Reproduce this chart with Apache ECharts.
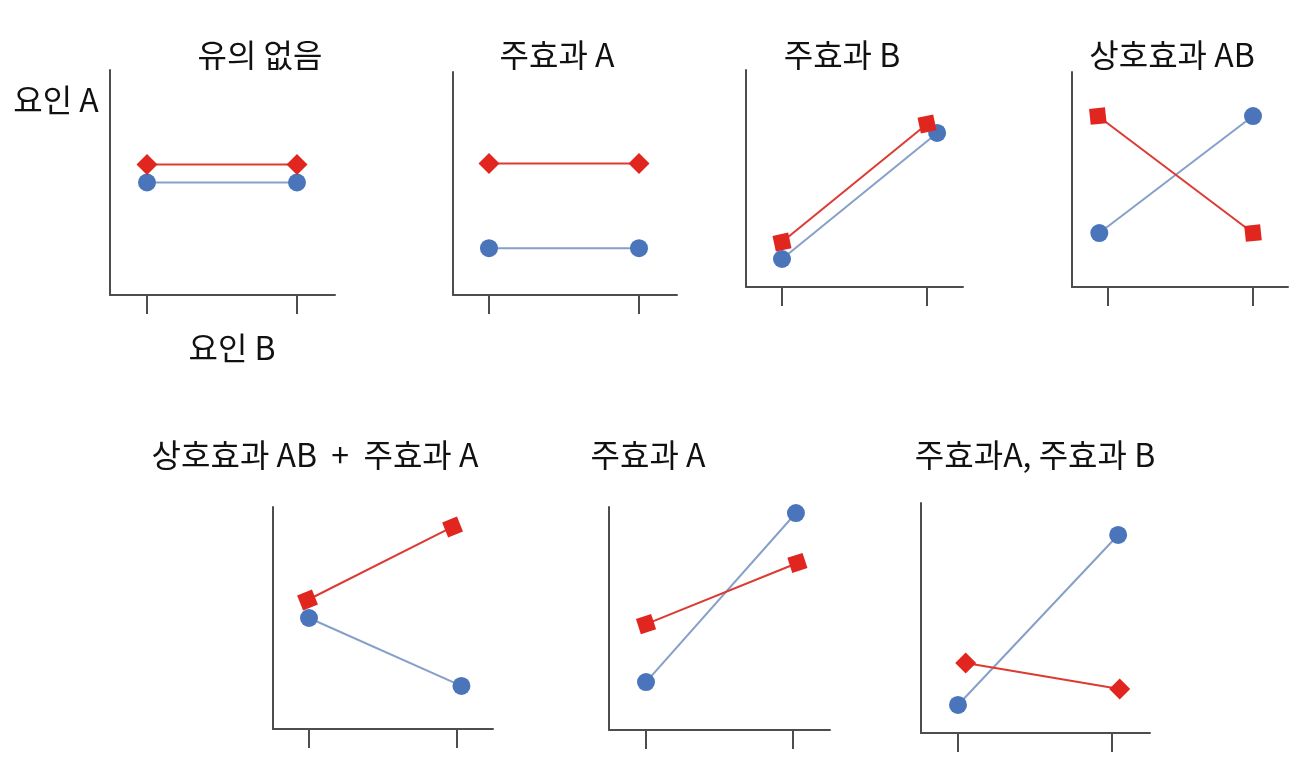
<!DOCTYPE html>
<html><head><meta charset="utf-8">
<script src="https://cdn.jsdelivr.net/npm/echarts@6/dist/echarts.min.js"></script>
<style>html,body{margin:0;padding:0;background:#fff}#c{width:1306px;height:772px}</style>
</head><body><div id="c"></div>
<script>
// ---- data ----
const panelTitles = ['유의 없음', '주효과 A', '주효과 B', '상호효과 AB', '상호효과 AB  +  주효과 A', '주효과 A', '주효과A, 주효과 B'];
const factorLevels = [1, 2];            // levels of 요인 B
const redX  = [[1, 2], [1, 2], [1, 2], [0.93, 2], [0.99, 1.97], [1.0, 2.03], [1.05, 2.05]];
const redY  = [[5.8, 5.8], [5.9, 5.9], [2.07, 7.51], [7.95, 2.51], [5.81, 9.10], [4.75, 7.49], [3.04, 1.91]];
const blueX = [[1, 2], [1, 2], [1, 2.07], [0.94, 2], [1, 2.03], [1, 2.02], [1, 2.04]];
const blueY = [[5.0, 5.0], [2.1, 2.1], [1.29, 7.10], [2.51, 7.95], [5.0, 1.94], [2.15, 9.73], [1.22, 8.61]];
const redShapes = ['diamond', 'diamond', 'rect', 'rect', 'rect', 'rect', 'diamond'];
const axisTitleA = '요인 A';
const axisTitleB = '요인 B';

// ---- layout (pixels) ----
const layout = [
  {l: 110, t: 70, r: 335, b: 295, t1: 147, t2: 297, tx: 260, ty: 55},
  {l: 453, t: 72, r: 677, b: 295, t1: 489, t2: 639, tx: 557, ty: 55},
  {l: 746, t: 70, r: 963, b: 287, t1: 782, t2: 927, tx: 842, ty: 55},
  {l: 1072, t: 72, r: 1288, b: 287, t1: 1108, t2: 1253, tx: 1172, ty: 55},
  {l: 273, t: 507, r: 493, b: 729, t1: 309, t2: 457, tx: 315, ty: 455},
  {l: 609, t: 507, r: 830, b: 730, t1: 646, t2: 793, tx: 648, ty: 455},
  {l: 921, t: 503, r: 1150, b: 733, t1: 958, t2: 1112, tx: 1035, ty: 455}
];
const rotations = [0, 0, 12, 6, 22, 18, 0];
const redOnTop = [true, true, true, true, false, true, true];

const FONT = "'Noto Sans CJK KR', 'Noto Sans', sans-serif";
const AXIS = '#4d4d4d';
const RED = '#e0261f', RED_LINE = '#dc3a33';
const BLUE = '#4b75ba', BLUE_LINE = '#86a0c9';

const grid = [], xAxis = [], yAxis = [], series = [], graphic = [];
layout.forEach((g, i) => {
  const sp = g.t2 - g.t1;
  grid.push({left: g.l, top: g.t, width: g.r - g.l, height: g.b - g.t, containLabel: false});
  xAxis.push({
    type: 'value', gridIndex: i,
    min: 1 - (g.t1 - g.l) / sp, max: 2 + (g.r - g.t2) / sp,
    axisLine: {show: true, onZero: false, lineStyle: {color: AXIS, width: 2}},
    axisTick: {show: true, customValues: factorLevels, length: 19, inside: false, lineStyle: {color: AXIS, width: 2}},
    axisLabel: {show: false}, splitLine: {show: false}
  });
  yAxis.push({
    type: 'value', gridIndex: i, min: 0, max: 10,
    axisLine: {show: true, onZero: false, lineStyle: {color: AXIS, width: 2}},
    axisTick: {show: false}, axisLabel: {show: false}, splitLine: {show: false}
  });
  const blue = {
    type: 'line', xAxisIndex: i, yAxisIndex: i,
    data: blueX[i].map((x, k) => [x, blueY[i][k]]),
    symbol: 'circle', symbolSize: 18,
    itemStyle: {color: BLUE}, lineStyle: {color: BLUE_LINE, width: 2},
    z: redOnTop[i] ? 2 : 4, silent: true, animation: false
  };
  const red = {
    type: 'line', xAxisIndex: i, yAxisIndex: i,
    data: redX[i].map((x, k) => [x, redY[i][k]]),
    symbol: redShapes[i], symbolSize: redShapes[i] === 'diamond' ? 21 : 16,
    symbolRotate: rotations[i],
    itemStyle: {color: RED}, lineStyle: {color: RED_LINE, width: 2},
    z: redOnTop[i] ? 4 : 2, silent: true, animation: false
  };
  series.push(blue, red);
  graphic.push({type: 'text', x: g.tx, y: g.ty,
    style: {text: panelTitles[i], fill: '#111', font: '32px ' + FONT, textAlign: 'center', textVerticalAlign: 'middle'}});
});
graphic.push({type: 'text', x: 56, y: 100,
  style: {text: axisTitleA, fill: '#111', font: '32px ' + FONT, textAlign: 'center', textVerticalAlign: 'middle'}});
graphic.push({type: 'text', x: 232, y: 348,
  style: {text: axisTitleB, fill: '#111', font: '32px ' + FONT, textAlign: 'center', textVerticalAlign: 'middle'}});

const chart = echarts.init(document.getElementById('c'), null, {renderer: 'canvas'});
chart.setOption({animation: false, backgroundColor: '#fff', grid, xAxis, yAxis, series, graphic});
</script>
</body></html>
